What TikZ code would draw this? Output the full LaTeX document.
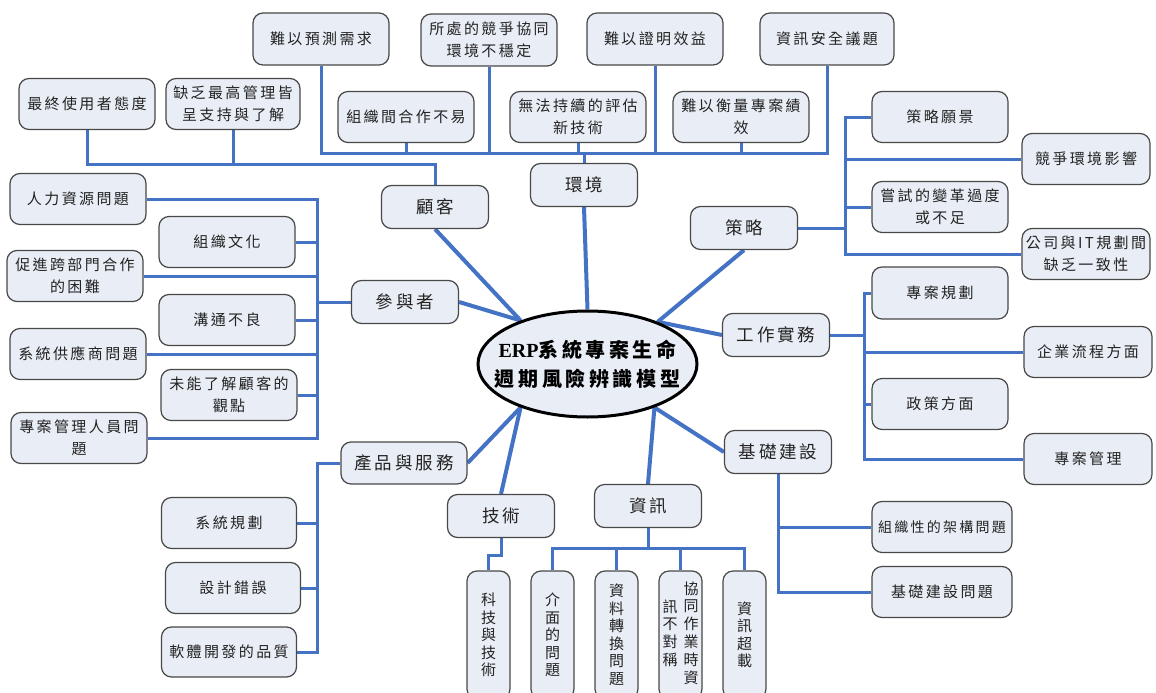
\documentclass[tikz,border=0pt]{standalone}
\usepackage{fontspec}
\setmainfont{Noto Sans CJK TC}
\newfontfamily\erpfont{Liberation Serif}
\usetikzlibrary{shapes.geometric}
\definecolor{boxfill}{RGB}{233,237,245}
\definecolor{boxdraw}{RGB}{72,72,72}
\definecolor{linkblue}{RGB}{68,114,196}
\definecolor{txt}{RGB}{35,35,35}
\newcommand\leaffont{\fontsize{15}{22}\selectfont\addfontfeature{LetterSpace=16}}
\newcommand\smallleaffont{\fontsize{14}{20}\selectfont\addfontfeature{LetterSpace=16}}
\newcommand\catfont{\fontsize{17.5}{22}\selectfont\addfontfeature{LetterSpace=17}}
\newcommand\vfont{\fontsize{15}{17.5}\selectfont}
\newcommand\titlefont{\fontsize{20}{29}\selectfont\bfseries\addfontfeature{LetterSpace=18}}
\newcommand\vcol[1]{\begin{tabular}[c]{@{}c@{}}#1\end{tabular}}
\pgfdeclarelayer{bg}
\pgfsetlayers{bg,main}
\begin{document}
\begin{tikzpicture}[x=1pt,y=-1pt,
  leaf/.style={draw=boxdraw,line width=1.2pt,fill=boxfill,rounded corners=10pt,align=center,text=txt,inner sep=2pt,minimum height=51pt,minimum width=136pt,font=\leaffont},
  wideleaf/.style={leaf,minimum width=128pt},
  catbox/.style={leaf,minimum width=107pt,minimum height=43pt,font=\catfont},
  vleaf/.style={leaf,minimum width=43pt,minimum height=128pt,font=\vfont},
  tree/.style={draw=linkblue,line width=3pt},
  spoke/.style={draw=linkblue,line width=4pt},
]
\useasboundingbox (0,0) rectangle (1156,693);

% centre
\node[ellipse,draw=black,line width=3pt,fill=boxfill,minimum width=219pt,minimum height=106pt,inner sep=0pt,align=center,text=black,font=\titlefont] (root) at (587.5,364)
  {\makebox[140pt][c]{{\erpfont\bfseries ERP}系統專案生命}\\\makebox[140pt][c]{週期風險辨識模型}};

% categories
\node[catbox] (cust) at (435,207) {顧客};
\node[catbox] (env) at (584,185) {環境};
\node[catbox] (strat) at (744,228) {策略};
\node[catbox] (part) at (405,302) {參與者};
\node[catbox] (work) at (776,335) {工作實務};
\node[catbox,minimum width=126pt,minimum height=42pt] (prod) at (404,463) {產品與服務};
\node[catbox] (tech) at (501,516) {技術};
\node[catbox] (info) at (648,506) {資訊};
\node[catbox] (infra) at (778,452) {基礎建設};

% customer leaves
\node[leaf] (u1) at (87,104) {最終使用者態度};
\node[leaf,minimum width=134pt] (u2) at (233,104) {缺乏最高管理皆\\呈支持與了解};

% environment leaves
\node[leaf,minimum height=52pt] (t1) at (321,39) {難以預測需求};
\node[leaf,minimum height=52pt] (t2) at (489,40) {所處的競爭協同\\環境不穩定};
\node[leaf,minimum height=52pt] (t3) at (655,39) {難以證明效益};
\node[leaf,minimum width=134pt,minimum height=52pt] (t4) at (827,39) {資訊安全議題};
\node[leaf] (s1) at (406,117) {組織間合作不易};
\node[leaf] (s2) at (578,117) {無法持續的評估\\新技術};
\node[leaf] (s3) at (741,117) {難以衡量專案績\\效};

% strategy leaves
\node[leaf] (r1) at (940,117) {策略願景};
\node[wideleaf] (r2) at (1086,159) {競爭環境影響};
\node[leaf] (r3) at (940,207) {嘗試的變革過度\\或不足};
\node[wideleaf] (r4) at (1086,254) {公司與IT規劃間\\缺乏一致性};

% work leaves
\node[leaf,minimum height=52pt] (w1) at (940,293) {專案規劃};
\node[wideleaf] (w2) at (1088,352) {企業流程方面};
\node[leaf] (w3) at (940,404) {政策方面};
\node[wideleaf] (w4) at (1088,459) {專案管理};

% infrastructure leaves
\node[leaf,minimum width=140pt,font=\smallleaffont] (f1) at (942,527) {組織性的架構問題};
\node[leaf,minimum width=140pt] (f2) at (942,592) {基礎建設問題};

% participant leaves
\node[leaf] (p1) at (78,199) {人力資源問題};
\node[leaf] (p2) at (227,242) {組織文化};
\node[leaf] (p3) at (75,276) {促進跨部門合作\\的困難};
\node[leaf] (p4) at (227,320) {溝通不良};
\node[leaf] (p5) at (78,354) {系統供應商問題};
\node[leaf] (p6) at (229,395) {未能了解顧客的\\觀點};
\node[leaf] (p7) at (79,438) {專案管理人員問\\題};

% product leaves
\node[leaf,minimum width=135pt] (q1) at (229,523) {系統規劃};
\node[leaf,minimum width=135pt] (q2) at (233,588) {設計錯誤};
\node[leaf,minimum width=135pt,minimum height=50pt] (q3) at (229,652) {軟體開發的品質};

% vertical leaves
\node[vleaf] (v1) at (488.5,635) {科\\技\\與\\技\\術};
\node[vleaf] (v2) at (552.5,635) {介\\面\\的\\問\\題};
\node[vleaf] (v3) at (616.5,635) {資\\料\\轉\\換\\問\\題};
\node[vleaf] (v4) at (680.5,635) {\vcol{訊\\不\\對\\稱}\hspace{6pt}\vcol{協\\同\\作\\業\\時\\資}};
\node[vleaf] (v5) at (744.5,635) {資\\訊\\超\\載};

\begin{pgfonlayer}{bg}
\fill[white] (0,0) rectangle (1156,693);
% spokes
\draw[spoke] (cust.south) -- (root.147);
\draw[spoke] (part.east) -- (root.147);
\draw[spoke] (env.south) -- (root.north);
\draw[spoke] (strat.south) -- (root.31);
\draw[spoke] (work.west) -- (root.31);
\draw[spoke] (prod.east) -- (root.213);
\draw[spoke] (tech.north) -- (root.213);
\draw[spoke] (info.north) -- (root.327);
\draw[spoke] (infra.west) -- (root.327);

% environment bus
\coordinate (eb) at (584,153);
\draw[tree] (t1.south) |- (t4.south |- eb) -- (t4.south);
\draw[tree] (t2.south) -- (t2.south |- eb);
\draw[tree] (t3.south) -- (t3.south |- eb);
\draw[tree] (s1.south) -- (s1.south |- eb);
\draw[tree] (s2.south) -- (s2.south |- eb);
\draw[tree] (s3.south) -- (s3.south |- eb);
\draw[tree] (env.north) -- (env.north |- eb);

% customer bus
\coordinate (cb) at (435,164);
\draw[tree] (u1.south) |- (cust.north |- cb) -- (cust.north);
\draw[tree] (u2.south) -- (u2.south |- cb);

% strategy bus
\coordinate (sb) at (845,228);
\draw[tree] (strat.east) -- (sb);
\draw[tree] (r1.west) -- (r1.west -| sb) -- (r4.west -| sb) -- (r4.west);
\draw[tree] (r2.west) -- (r2.west -| sb);
\draw[tree] (r3.west) -- (r3.west -| sb);

% work bus
\coordinate (wb) at (864,335);
\draw[tree] (work.east) -- (wb);
\draw[tree] (w1.west) -- (w1.west -| wb) -- (w4.west -| wb) -- (w4.west);
\draw[tree] (w2.west) -- (w2.west -| wb);
\draw[tree] (w3.west) -- (w3.west -| wb);

% infrastructure bus
\draw[tree] (infra.south) |- (f2.west);
\draw[tree] (infra.south |- f1.west) -- (f1.west);

% participant bus
\coordinate (pb) at (317,302);
\draw[tree] (part.west) -- (pb);
\draw[tree] (p1.east) -- (p1.east -| pb) -- (p7.east -| pb) -- (p7.east);
\draw[tree] (p2.east) -- (p2.east -| pb);
\draw[tree] (p3.east) -- (p3.east -| pb);
\draw[tree] (p4.east) -- (p4.east -| pb);
\draw[tree] (p5.east) -- (p5.east -| pb);
\draw[tree] (p6.east) -- (p6.east -| pb);

% product bus
\coordinate (qb) at (317,463);
\draw[tree] (prod.west) -- (qb) -- (qb |- q3.east) -- (q3.east);
\draw[tree] (q1.east) -- (q1.east -| qb);
\draw[tree] (q2.east) -- (q2.east -| qb);

% technology
\coordinate (tk) at (501,555);
\draw[tree] (tech.south) -- (tk) -| (v1.north);

% information bus
\coordinate (ib) at (648,548);
\draw[tree] (info.south) -- (ib);
\draw[tree] (v2.north) |- (v5.north |- ib) -- (v5.north);
\draw[tree] (v3.north) -- (v3.north |- ib);
\draw[tree] (v4.north) -- (v4.north |- ib);
\end{pgfonlayer}
\end{tikzpicture}
\end{document}
